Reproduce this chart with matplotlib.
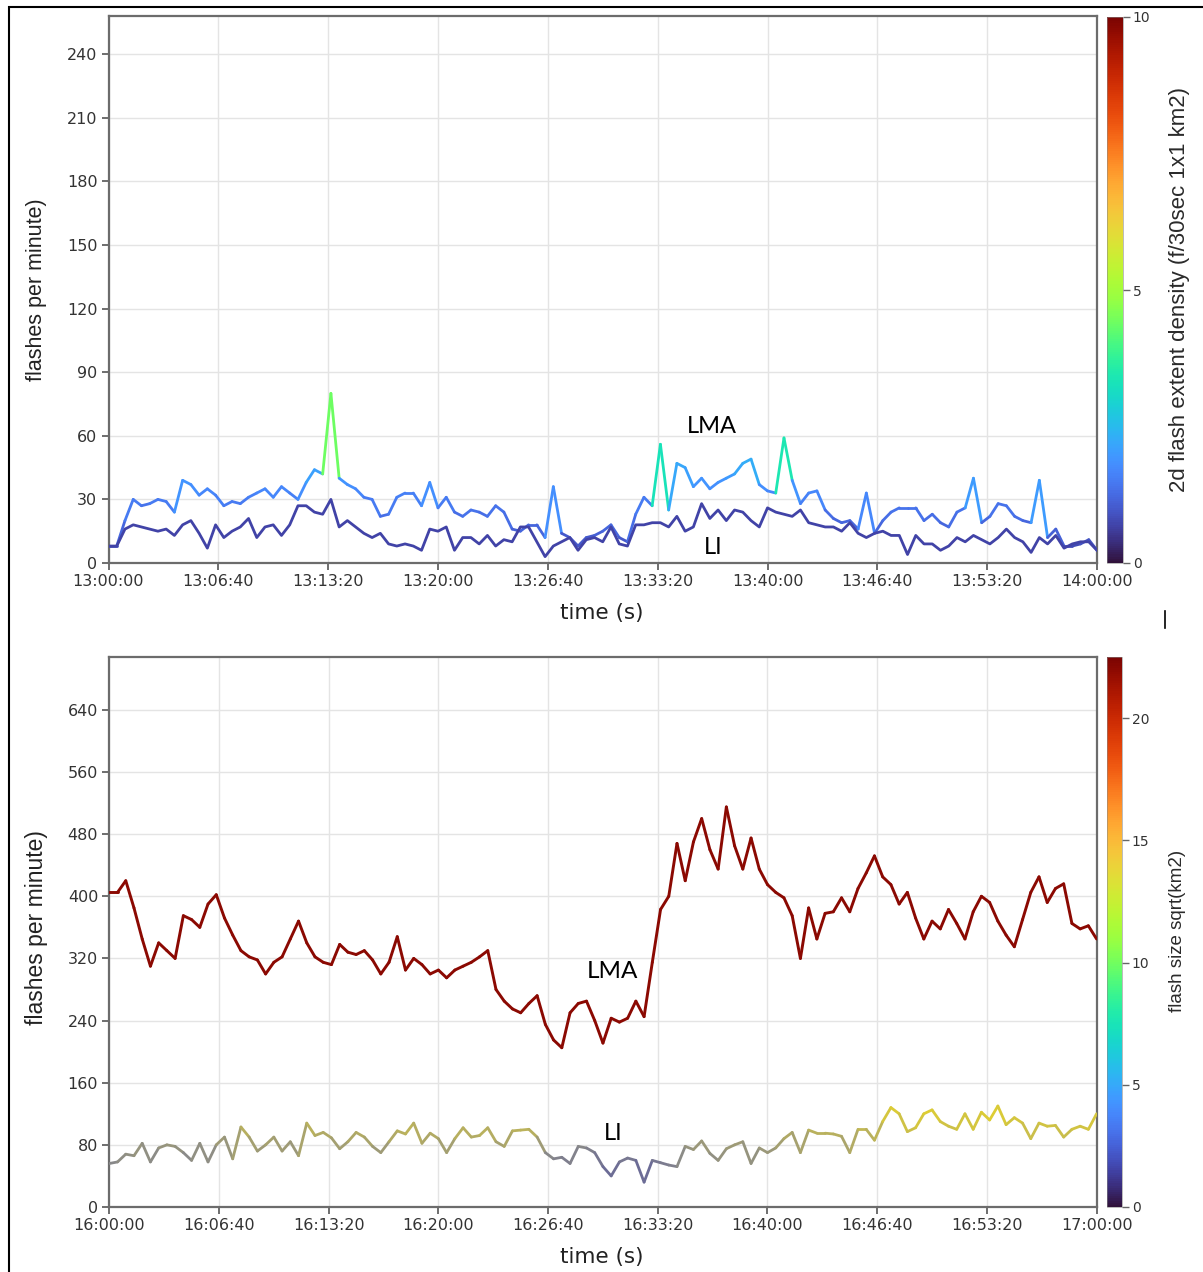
import numpy as np
import matplotlib
matplotlib.use("Agg")
import matplotlib.pyplot as plt
from matplotlib.collections import LineCollection
from matplotlib.colors import Normalize, LinearSegmentedColormap
from matplotlib.ticker import FuncFormatter, MultipleLocator
from matplotlib.patches import Rectangle
from matplotlib.lines import Line2D

# 30 s sampling over one hour (seconds after the start hour)
t_sec = np.arange(0, 3601, 30)

# --- 13:00-14:00 window ---
lma_rate_13 = [8, 8, 20, 30, 27, 28, 30, 29, 24, 39,
               37, 32, 35, 32, 27, 29, 28, 31, 33, 35,
               31, 36, 33, 30, 38, 44, 42, 80, 40, 37,
               35, 31, 30, 22, 23, 31, 33, 33, 27, 38,
               26, 31, 24, 22, 25, 24, 22, 27, 24, 16,
               15, 18, 18, 12, 36, 14, 12, 8, 12, 13,
               15, 18, 12, 10, 23, 31, 27, 56, 25, 47,
               45, 36, 40, 35, 38, 40, 42, 47, 49, 37,
               34, 33, 59, 39, 28, 33, 34, 25, 21, 19,
               20, 16, 33, 14, 20, 24, 26, 26, 26, 20,
               23, 19, 17, 24, 26, 40, 19, 22, 28, 27,
               22, 20, 19, 39, 12, 16, 8, 8, 9, 11,
               6]
lma_density_13 = [0.8, 0.8, 1.2, 1.5, 1.4, 1.4, 1.5, 1.5, 1.3, 1.9,
                  1.8, 1.6, 1.7, 1.6, 1.4, 1.5, 1.4, 1.5, 1.6, 1.7,
                  1.5, 1.7, 1.6, 1.5, 1.8, 2.1, 2.0, 4.4, 1.9, 1.8,
                  1.7, 1.5, 1.5, 1.3, 1.3, 1.5, 1.6, 1.6, 1.4, 1.8,
                  1.4, 1.5, 1.3, 1.3, 1.4, 1.3, 1.3, 1.4, 1.3, 1.1,
                  1.1, 1.2, 1.2, 1.0, 1.8, 1.0, 1.0, 0.8, 1.0, 1.0,
                  1.1, 1.2, 1.0, 0.9, 1.3, 1.5, 1.4, 3.3, 1.4, 2.2,
                  2.1, 1.7, 1.9, 1.7, 1.8, 1.9, 2.0, 2.2, 2.3, 1.8,
                  1.7, 1.6, 3.4, 1.9, 1.4, 1.6, 1.7, 1.3, 1.2, 1.1,
                  1.2, 1.1, 1.7, 1.0, 1.2, 1.3, 1.4, 1.4, 1.4, 1.2,
                  1.3, 1.2, 1.1, 1.3, 1.4, 2.0, 1.1, 1.2, 1.4, 1.4,
                  1.3, 1.2, 1.1, 2.0, 1.0, 1.1, 0.8, 0.8, 0.8, 0.9,
                  0.7]
li_rate_13 = [8, 8, 16, 18, 17, 16, 15, 16, 13, 18,
              20, 14, 7, 18, 12, 15, 17, 21, 12, 17,
              18, 13, 18, 27, 27, 24, 23, 30, 17, 20,
              17, 14, 12, 14, 9, 8, 9, 8, 6, 16,
              15, 17, 6, 12, 12, 9, 13, 8, 11, 10,
              17, 17, 10, 3, 8, 10, 12, 6, 11, 12,
              10, 17, 9, 8, 18, 18, 19, 19, 17, 22,
              15, 17, 28, 21, 25, 20, 25, 24, 20, 17,
              26, 24, 23, 22, 25, 19, 18, 17, 17, 15,
              19, 14, 12, 14, 15, 13, 13, 4, 13, 9,
              9, 6, 8, 12, 10, 13, 11, 9, 12, 16,
              12, 10, 5, 12, 9, 13, 7, 9, 10, 10,
              6]
li_density_13 = 0.7

# --- 16:00-17:00 window ---
lma_rate_16 = [405, 405, 420, 385, 345, 310, 340, 330, 320, 375,
               370, 360, 390, 402, 372, 350, 330, 322, 318, 300,
               315, 322, 345, 368, 340, 322, 315, 312, 338, 328,
               325, 330, 318, 300, 315, 348, 305, 320, 312, 300,
               305, 295, 305, 310, 315, 322, 330, 280, 265, 255,
               250, 262, 272, 235, 215, 205, 250, 262, 265, 240,
               211, 243, 238, 243, 265, 245, 315, 383, 400, 468,
               420, 470, 500, 460, 435, 515, 465, 435, 475, 435,
               415, 405, 398, 375, 320, 385, 345, 378, 380, 398,
               380, 410, 430, 452, 425, 415, 390, 405, 372, 345,
               368, 358, 383, 365, 345, 380, 400, 392, 368, 350,
               335, 370, 405, 425, 392, 410, 416, 365, 358, 362,
               345]
lma_size_16 = 22.0
li_rate_16 = [56, 58, 68, 66, 82, 58, 76, 80, 78, 70,
              60, 82, 58, 80, 90, 62, 103, 90, 72, 80,
              90, 72, 84, 66, 108, 92, 96, 89, 75, 84,
              96, 90, 78, 70, 84, 98, 94, 108, 82, 95,
              88, 70, 88, 102, 90, 92, 102, 84, 78, 98,
              99, 100, 90, 70, 62, 64, 56, 78, 76, 70,
              52, 40, 58, 63, 60, 32, 60, 57, 54, 52,
              78, 74, 85, 69, 60, 75, 80, 84, 56, 76,
              70, 76, 88, 96, 70, 99, 95, 95, 94, 91,
              70, 100, 100, 86, 110, 128, 120, 97, 102, 120,
              125, 110, 104, 100, 120, 100, 122, 112, 130, 106,
              115, 108, 88, 108, 104, 105, 90, 100, 104, 100,
              120]
li_size_16 = [10.2, 10.4, 10.8, 10.6, 11.2, 10.2, 10.8, 11.0, 11.0, 10.6,
              10.2, 11.2, 10.2, 11.0, 11.6, 10.4, 12.6, 12.0, 11.0, 11.4,
              11.8, 11.0, 11.6, 10.6, 12.8, 12.0, 12.2, 11.8, 11.2, 11.6,
              12.2, 12.0, 11.4, 11.0, 11.6, 12.4, 12.2, 12.8, 11.6, 12.2,
              12.0, 11.0, 12.0, 12.6, 12.0, 12.2, 12.6, 11.8, 11.4, 12.4,
              12.4, 12.6, 12.0, 10.6, 10.0, 10.0, 9.6, 10.4, 10.2, 9.6,
              9.2, 8.6, 9.4, 9.6, 9.4, 8.4, 9.4, 9.6, 9.8, 10.0,
              11.0, 10.8, 11.4, 10.8, 10.6, 11.2, 11.2, 11.4, 10.4, 11.2,
              11.0, 11.2, 11.8, 12.2, 11.0, 12.4, 12.4, 12.4, 12.4, 12.2,
              11.4, 12.8, 12.8, 12.0, 13.2, 14.2, 13.8, 13.0, 13.4, 14.0,
              14.2, 13.6, 13.4, 13.2, 14.0, 13.2, 14.2, 13.8, 14.4, 13.4,
              13.8, 13.6, 12.8, 13.6, 13.4, 13.6, 12.8, 13.4, 13.6, 13.4,
              14.0]

W, H = 1203, 1272
TICK_FONT = "DejaVu Sans"
LABEL_FONT = "Liberation Sans"
NOTE_FONT = "Lato"

cmap = plt.get_cmap("turbo")
norm_density = Normalize(0, 10)
norm_size = Normalize(0, 22.5)
# faded tone used for the LI trace in the lower panel
li_cmap = LinearSegmentedColormap.from_list(
    "li_tone", [(0.0, "#5a5a9e"), (0.35, "#8b8b88"), (0.65, "#bdb45a"), (1.0, "#efdb1e")])
li_norm = Normalize(8, 15)


def fx(px):
    return px / W


def fy(py):
    return 1 - py / H


def colored_line(ax, x, y, colors, lw=2.0, z=3):
    pts = np.column_stack([x, y]).reshape(-1, 1, 2)
    segs = np.concatenate([pts[:-1], pts[1:]], axis=1)
    lc = LineCollection(segs, colors=colors, linewidths=lw, capstyle="round",
                        joinstyle="round", zorder=z)
    ax.add_collection(lc)
    return lc


def seg_values(vals, how="mean"):
    vals = np.asarray(vals, dtype=float)
    if how == "max":
        return np.maximum(vals[:-1], vals[1:])
    return 0.5 * (vals[:-1] + vals[1:])


def hms(base_hour):
    def fmt(s, pos):
        s = int(round(s))
        return f"{base_hour + s // 3600:02d}:{(s % 3600) // 60:02d}:{s % 60:02d}"
    return FuncFormatter(fmt)


def style_axes(ax, ymax, ystep, base_hour):
    ax.set_xlim(0, 3600)
    ax.set_ylim(0, ymax)
    ax.xaxis.set_major_locator(MultipleLocator(400))
    ax.yaxis.set_major_locator(MultipleLocator(ystep))
    ax.xaxis.set_major_formatter(hms(base_hour))
    ax.grid(True, color="#e4e4e4", lw=1.0, zorder=0)
    ax.set_axisbelow(True)
    for sp in ax.spines.values():
        sp.set_color("#6c6c6c")
        sp.set_linewidth(1.6)
    ax.tick_params(direction="out", length=5, width=1.2, color="#555555",
                   labelcolor="#333333", labelsize=11.5, pad=3)
    for lab in ax.get_xticklabels() + ax.get_yticklabels():
        lab.set_fontfamily(TICK_FONT)


def style_cbar(cb):
    cb.outline.set_linewidth(0.4)
    cb.outline.set_edgecolor("#888888")
    cb.ax.tick_params(length=5, width=1.0, color="#666666", labelsize=10,
                      labelcolor="#333333", pad=2)
    for lab in cb.ax.get_yticklabels():
        lab.set_fontfamily(TICK_FONT)
        lab.set_fontsize(10)


fig = plt.figure(figsize=(W / 100, H / 100), dpi=100)

# ---------------- top panel ----------------
ax1 = fig.add_axes([fx(108.5), fy(563), fx(1097) - fx(108.5), (563 - 16) / H])
style_axes(ax1, 258, 30, 13)
colored_line(ax1, t_sec, lma_rate_13,
             cmap(norm_density(seg_values(lma_density_13, how="max"))))
ax1.plot(t_sec, li_rate_13, color=cmap(norm_density(li_density_13)), lw=2.0, zorder=4,
         solid_joinstyle="round")
ax1.text(2198, 64.5, "LMA", fontsize=17, family=NOTE_FONT, ha="center", va="center")
ax1.text(2201, 7.5, "LI", fontsize=17, family=NOTE_FONT, ha="center", va="center")

cax1 = fig.add_axes([fx(1107), fy(563), 16 / W, (563 - 17) / H])
sm1 = plt.cm.ScalarMappable(norm=norm_density, cmap=cmap)
cb1 = fig.colorbar(sm1, cax=cax1, ticks=[0, 5, 10])
style_cbar(cb1)

# ---------------- bottom panel ----------------
ax2 = fig.add_axes([fx(109.3), fy(1207), fx(1096.6) - fx(109.3), (1207 - 657) / H])
style_axes(ax2, 708, 80, 16)
colored_line(ax2, t_sec, lma_rate_16, cmap(norm_size(lma_size_16)), lw=2.1)
colored_line(ax2, t_sec, li_rate_16, li_cmap(li_norm(seg_values(li_size_16))), lw=2.0, z=4)
ax2.text(1835, 303, "LMA", fontsize=17.5, family=NOTE_FONT, ha="center", va="center")
ax2.text(1837, 95, "LI", fontsize=17, family=NOTE_FONT, ha="center", va="center")

cax2 = fig.add_axes([fx(1107), fy(1207), 15 / W, (1207 - 657) / H])
sm2 = plt.cm.ScalarMappable(norm=norm_size, cmap=cmap)
cb2 = fig.colorbar(sm2, cax=cax2, ticks=[0, 5, 10, 15, 20])
style_cbar(cb2)

# axis titles
fig.text(fx(37), fy(290), "flashes per minute)", rotation=90, fontsize=15.5,
         family=LABEL_FONT, color="#222222", ha="center", va="center")
fig.text(fx(37), fy(928), "flashes per minute)", rotation=90, fontsize=16.5,
         family=LABEL_FONT, color="#222222", ha="center", va="center")
fig.text(fx(602), fy(613), "time (s)", fontsize=15.5, family=TICK_FONT,
         color="#222222", ha="center", va="center")
fig.text(fx(602), fy(1257), "time (s)", fontsize=15.5, family=TICK_FONT,
         color="#222222", ha="center", va="center")
fig.text(fx(1180), fy(290), "2d flash extent density (f/30sec 1x1 km2)", rotation=90,
         fontsize=16, family=LABEL_FONT, color="#2a2a2a", ha="center", va="center")
fig.text(fx(1177), fy(931), "flash size sqrt(km2)", rotation=90,
         fontsize=13.5, family=LABEL_FONT, color="#2a2a2a", ha="center", va="center")

# page frame and the small mark at the right margin
fig.add_artist(Rectangle((fx(9), -0.05), 1.2, fy(7) + 0.05, transform=fig.transFigure,
                         fill=False, ec="black", lw=1.5))
fig.add_artist(Line2D([fx(1165), fx(1165)], [fy(611), fy(628)], color="black", lw=1.2))

fig.savefig("out.png", dpi=100)
